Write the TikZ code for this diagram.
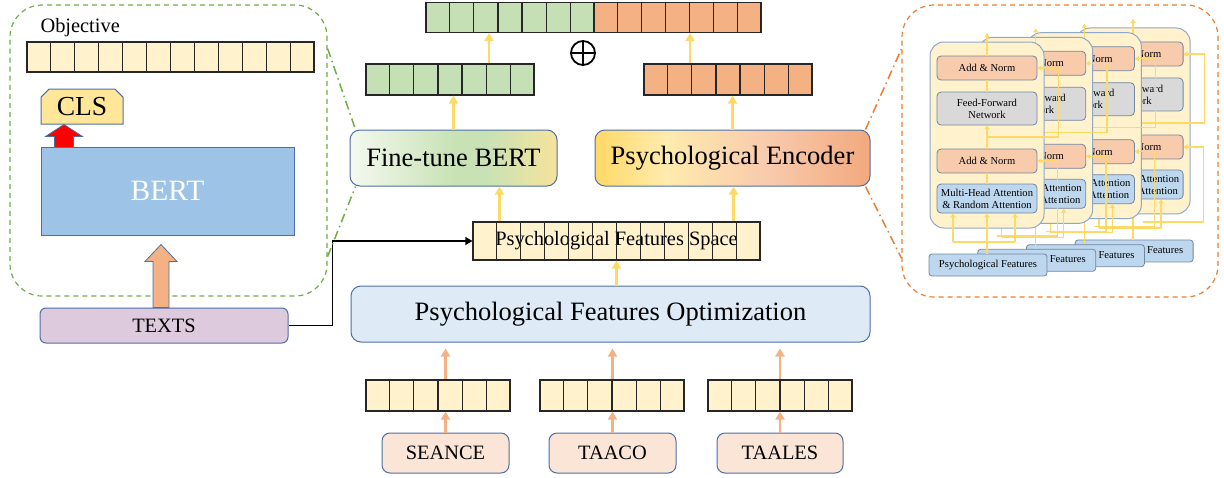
\documentclass[tikz,border=0pt]{standalone}
\usepackage{fontspec}
\setmainfont{Liberation Serif}
\usetikzlibrary{arrows.meta,shapes.misc,calc}

\definecolor{cellyel}{HTML}{FFF2CC}
\definecolor{cellgreen}{HTML}{C5E0B4}
\definecolor{cellorange}{HTML}{F4B183}
\definecolor{boxblue}{HTML}{4E6FA6}
\definecolor{arrgold}{HTML}{FFD966}
\definecolor{arrorange}{HTML}{F4B183}
\definecolor{pfofill}{HTML}{DEEBF7}
\definecolor{srcfill}{HTML}{FBE5D6}
\definecolor{textfill}{HTML}{DDCADC}
\definecolor{bertfill}{HTML}{9DC3E6}
\definecolor{clsfill}{HTML}{FFE699}
\definecolor{panelgreen}{HTML}{70AD47}
\definecolor{panelorange}{HTML}{ED7D31}
\definecolor{layedge}{HTML}{8EA9C8}
\definecolor{normfill}{HTML}{F8CBAD}
\definecolor{ffnfill}{HTML}{D9D9D9}
\definecolor{attfill}{HTML}{BDD7EE}
\definecolor{ftA}{HTML}{F4F9F0}
\definecolor{ftB}{HTML}{C9E2B5}
\definecolor{ftC}{HTML}{F5E39C}
\definecolor{encA}{HTML}{FFD966}
\definecolor{encB}{HTML}{FFEBAE}
\definecolor{encC}{HTML}{F8CBAD}
\definecolor{encD}{HTML}{F2A97E}

\pgfdeclarehorizontalshading{ftshade}{100bp}{color(0bp)=(ftA); color(25bp)=(ftA); color(50bp)=(ftB); color(58bp)=(ftB); color(75bp)=(ftC); color(100bp)=(ftC)}
\pgfdeclarehorizontalshading{encshade}{100bp}{color(0bp)=(encA); color(25bp)=(encA); color(38bp)=(encB); color(56bp)=(encC); color(75bp)=(encD); color(100bp)=(encD)}

\tikzset{
  cellrow/.style={draw=black!85, line width=1.2pt, fill=cellyel, inner sep=0pt},
  box/.style={draw=boxblue, line width=1pt, rounded corners=8pt, inner sep=0pt},
  yarr/.style={draw=arrgold, line width=2.5pt, -{Triangle[width=9pt,length=8pt]}},
  oarr/.style={draw=arrorange, line width=2.5pt, -{Triangle[width=9pt,length=8pt]}},
  zoomline/.style={line width=1.5pt, dash pattern=on 9pt off 4pt on 1.5pt off 4pt},
  panel/.style={line width=1.2pt, dash pattern=on 5pt off 4pt, rounded corners=32pt},
  sub/.style={draw=layedge!80!black, line width=0.8pt, rounded corners=4pt, minimum width=100pt,
    inner sep=0pt, align=center, font=\fontsize{10.6}{12}\selectfont},
  ly/.style={draw=arrgold, line width=1.3pt},
  lyarr/.style={ly, -{Triangle[width=5pt,length=4pt]}},
  bigtext/.style={font=\fontsize{26.5}{30}\selectfont},
  midtext/.style={font=\fontsize{20.4}{23}\selectfont},
}

\newcommand{\cellsplit}[2]{%
  \pgfmathtruncatemacro{\lastcell}{#2-1}
  \foreach \i in {1,...,\lastcell}
    \draw[line width=1.2pt, draw=black!85] ($(#1.south west)!\i/#2!(#1.south east)$) -- ($(#1.north west)!\i/#2!(#1.north east)$);
}

\begin{document}
\begin{tikzpicture}[x=1pt,y=-1pt]
\useasboundingbox (0,0) rectangle (1224,477);

\node[panel, draw=panelgreen, minimum width=317pt, minimum height=291pt] (bertpanel) at (168.5,150.5) {};
\node[anchor=west, midtext] (objlabel) at (37,28) {Objective};
\node[cellrow, minimum width=287pt, minimum height=30pt] (objrow) at (170.5,57) {};
\cellsplit{objrow}{12}
\node[draw=boxblue, line width=1pt, fill=clsfill, chamfered rectangle, chamfered rectangle corners={north west,north east},
  chamfered rectangle xsep=5pt, minimum width=82pt, minimum height=35pt, inner sep=0pt,
  font=\fontsize{27.5}{30}\selectfont] (cls) at (82,106.5) {CLS};
\node[draw=boxblue, line width=1pt, fill=bertfill, minimum width=253pt, minimum height=88pt, text=white,
  font=\fontsize{29.5}{32}\selectfont] (bert) at (167.5,191) {BERT};
\coordinate (redtip) at ([xshift=-18pt]cls.south);
\draw[draw=boxblue, line width=0.8pt, fill=red] (redtip) -- ++(18.5,12) -- ++(-9,0) -- ++(0,11) -- ++(-19,0) -- ++(0,-11) -- ++(-9,0) -- cycle;
\node[box, rounded corners=6pt, fill=textfill, minimum width=248pt, minimum height=35pt, midtext] (texts) at (164,325.5) {TEXTS};
\coordinate (textstip) at ([xshift=-3pt,yshift=63pt]texts.north);
\draw[draw=boxblue, line width=0.8pt, fill=arrorange] (textstip) -- ++(16,17) -- ++(-8,0) -- ++(0,46) -- ++(-16,0) -- ++(0,-46) -- ++(-8,0) -- cycle;

\node[cellrow, fill=cellgreen, minimum width=168pt, minimum height=30pt] (catg) at (510,17.5) {};
\cellsplit{catg}{7}
\node[cellrow, fill=cellorange, minimum width=167pt, minimum height=30pt] (cato) at (677.5,17.5) {};
\cellsplit{cato}{7}
\node[circle, draw, line width=1.8pt, minimum size=24pt, inner sep=0pt] (oplus) at (583,53) {};
\draw[line width=1.8pt] (oplus.north) -- (oplus.south) (oplus.west) -- (oplus.east);

\node[cellrow, fill=cellgreen, minimum width=168pt, minimum height=31pt] (ftrow) at (450,79.5) {};
\cellsplit{ftrow}{7}
\node[cellrow, fill=cellorange, minimum width=168pt, minimum height=31pt] (encrow) at (728,79.5) {};
\cellsplit{encrow}{7}

\node[box, rounded corners=10pt, shading=ftshade, minimum width=207pt, minimum height=56pt, bigtext] (ft) at (453.5,158) {Fine-tune BERT};
\node[box, rounded corners=10pt, shading=encshade, minimum width=275pt, minimum height=56pt, bigtext] (enc) at (732.5,158) {Psychological Encoder};

\node[cellrow, minimum width=287pt, minimum height=38pt, midtext] (pfs) at (616.5,241) {Psychological Features Space};
\cellsplit{pfs}{12}

\node[box, rounded corners=10pt, fill=pfofill, minimum width=519pt, minimum height=56pt, bigtext] (pfo) at (610.5,314) {Psychological Features Optimization};

\node[cellrow, minimum width=144pt, minimum height=31pt] (srcrow1) at (438,395.5) {};
\cellsplit{srcrow1}{6}
\node[cellrow, minimum width=144pt, minimum height=31pt] (srcrow2) at (612,395.5) {};
\cellsplit{srcrow2}{6}
\node[cellrow, minimum width=144pt, minimum height=31pt] (srcrow3) at (780,395.5) {};
\cellsplit{srcrow3}{6}

\node[box, fill=srcfill, minimum width=127pt, minimum height=40pt, midtext] (seance) at (445.5,453) {SEANCE};
\node[box, fill=srcfill, minimum width=127pt, minimum height=40pt, midtext] (taaco) at (612.5,453) {TAACO};
\node[box, fill=srcfill, minimum width=126pt, minimum height=40pt, midtext] (taales) at (780,453) {TAALES};

\draw[oarr] (seance.north) -- (seance.north |- srcrow1.south);
\draw[oarr] (taaco.north) -- (taaco.north |- srcrow2.south);
\draw[oarr] (taales.north) -- (taales.north |- srcrow3.south);
\draw[oarr, shorten >=6pt] (seance.north |- srcrow1.north) -- (seance.north |- pfo.south);
\draw[oarr, shorten >=6pt] (taaco.north |- srcrow2.north) -- (taaco.north |- pfo.south);
\draw[oarr, shorten >=6pt] (taales.north |- srcrow3.north) -- (taales.north |- pfo.south);

\draw[yarr] (pfo.north -| pfs.south) -- (pfs.south);
\draw[yarr] ([xshift=-117pt]pfs.north) -- ([xshift=-117pt]pfs.north |- ft.south);
\draw[yarr] ([xshift=117pt]pfs.north) -- ([xshift=117pt]pfs.north |- enc.south);
\draw[yarr] (ft.north) -- (ft.north |- ftrow.south);
\draw[yarr] (enc.north) -- (enc.north |- encrow.south);
\draw[yarr] ([xshift=39pt]ftrow.north) -- ([xshift=39pt]ftrow.north |- catg.south);
\draw[yarr] ([xshift=-38pt]encrow.north) -- ([xshift=-38pt]encrow.north |- cato.south);

\draw[line width=1.5pt, -{Triangle[width=8pt,length=7pt]}] (texts.east) -- ++(44,0) |- (pfs.west);

\draw[zoomline, draw=panelgreen] ([yshift=102pt]bertpanel.east) -- ([xshift=6pt]ft.north west);
\draw[zoomline, draw=panelgreen] ([yshift=-106pt]bertpanel.east) -- ([xshift=6pt]ft.south west);

\node[panel, draw=panelorange, minimum width=316pt, minimum height=292pt] (encpanel) at (1060,151) {};
\draw[zoomline, draw=panelorange] ([xshift=-5pt]enc.north east) -- ([yshift=102pt]encpanel.west);
\draw[zoomline, draw=panelorange] ([xshift=-5pt]enc.south east) -- ([yshift=-107pt]encpanel.west);

\foreach \k in {3,2,1,0}{
  \begin{scope}[shift={(930+48.7*\k,42-4.67*\k)}]
    \node[draw=layedge, line width=1pt, fill=cellyel, rounded corners=14pt, minimum width=114pt, minimum height=186pt] (lay\k) at (57,93) {};
    \node[sub, fill=normfill, minimum height=24pt] (norma\k) at (57,26) {Add \& Norm};
    \node[sub, fill=ffnfill, minimum height=33pt] (ffn\k) at (57,66.5) {Feed-Forward\\Network};
    \node[sub, fill=normfill, minimum height=24pt] (normb\k) at (57,119) {Add \& Norm};
    \node[sub, fill=attfill, minimum height=29pt] (att\k) at (57,156.5) {Multi-Head Attention\\\& Random Attention};
    \node[sub, fill=attfill, minimum width=118pt, minimum height=22pt, rounded corners=3pt] (pf\k) at (58,223) {Psychological Features};
    \coordinate (out\k) at (57,-9);
    \coordinate (fork\k) at (57,200);
    \draw[lyarr] (norma\k.north) -- (out\k);
    \draw[ly] (ffn\k.north) -- (norma\k.south);
    \draw[lyarr] (normb\k.north) -- (ffn\k.south);
    \draw[ly] (att\k.north) -- (normb\k.south);
    \draw[lyarr] (pf\k.north -| att\k.south) -- (att\k.south);
    \draw[ly] ([xshift=-34pt]fork\k) -- ([xshift=28pt]fork\k);
    \draw[lyarr] ([xshift=-34pt]fork\k) -- ([xshift=-34pt]att\k.south);
    \draw[lyarr] ([xshift=28pt]fork\k) -- ([xshift=28pt]att\k.south);
    \draw[lyarr] ([xshift=10pt,yshift=6pt]fork\k) -| ([xshift=20pt]normb\k.east) -- (normb\k.east);
    \draw[lyarr] ($(ffn\k.south)!0.5!(normb\k.north)$) -| ([xshift=21pt]norma\k.east) -- (norma\k.east);
  \end{scope}
}
\end{tikzpicture}
\end{document}
